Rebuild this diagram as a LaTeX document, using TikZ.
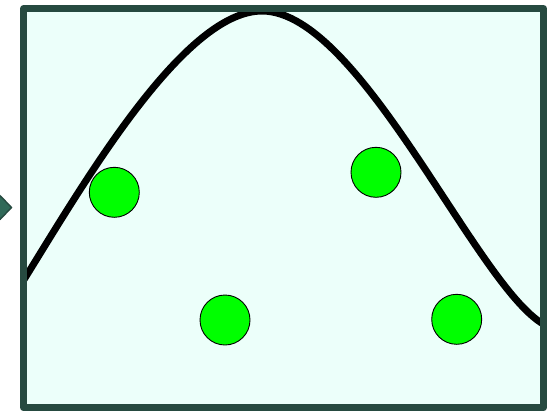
\documentclass[tikz,border=0pt]{standalone}
\begin{document}
\begin{tikzpicture}[x=1pt,y=-1pt,
  frame/.style={draw=borderc,line width=7.3pt,line join=round},
  dot/.style={circle,draw=black,line width=0.9pt,fill=dotgreen,minimum size=50pt,inner sep=0pt},
  bell/.style={draw=black,line width=7pt},
  marker/.style={draw=borderc,fill=markerfill,line width=1.4pt}]
\definecolor{borderc}{RGB}{38,74,64}
\definecolor{bgfill}{RGB}{236,255,250}
\definecolor{dotgreen}{RGB}{0,255,0}
\definecolor{markerfill}{RGB}{48,105,88}
\useasboundingbox (0,0) rectangle (556,410);
\fill[bgfill] (23.7,8.7) rectangle (543.5,407.7);
\begin{scope}
\clip (23.7,8.7) rectangle (543.5,407.7);
\draw[bell] (11,300) -- (20,286) .. controls (80,190) and (182,11) .. (262,11)
  .. controls (362,11) and (480,295) .. (547,326) -- (560,332);
\end{scope}
\node[dot] (c1) at (114.3,192.3) {};
\node[dot] (c2) at (376,172.3) {};
\node[dot] (c3) at (225,320) {};
\node[dot] (c4) at (456.7,319.3) {};
\draw[frame] (23.7,8.7) rectangle (543.5,407.7);
\draw[marker] (0.5,196) -- (11.5,207.5) -- (0.5,219) -- (-10.5,207.5) -- cycle;
\end{tikzpicture}
\end{document}
